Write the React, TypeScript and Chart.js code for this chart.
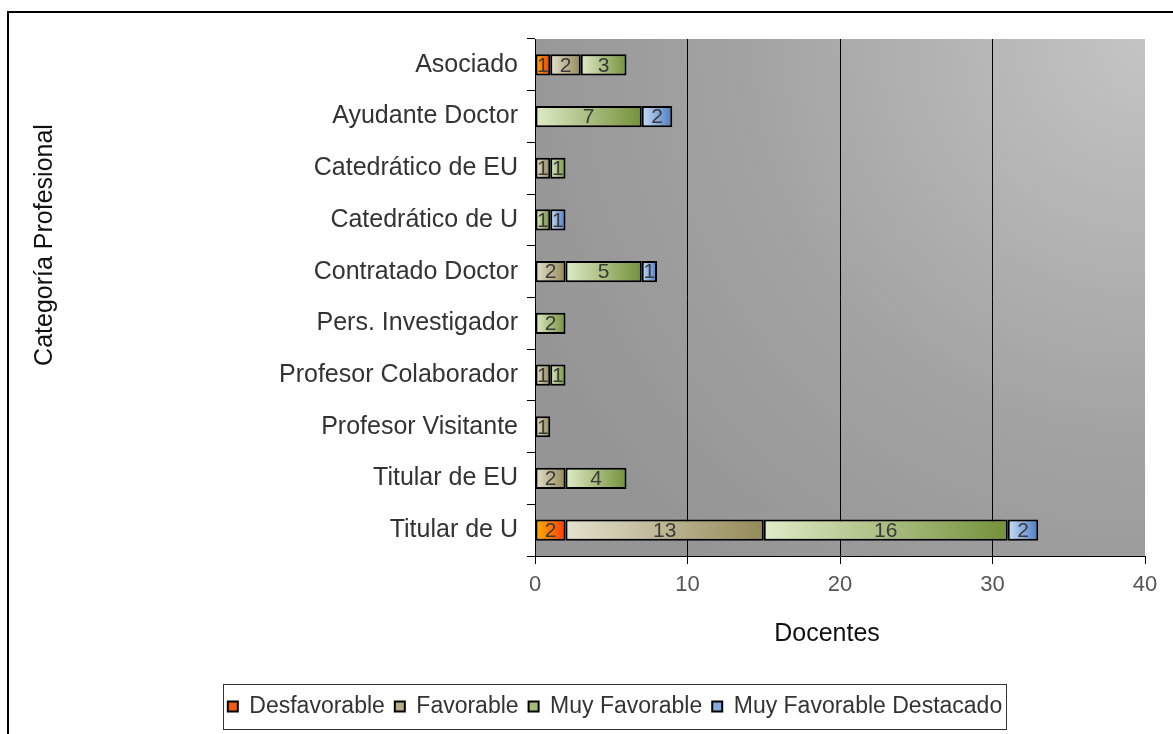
import React, { useEffect, useRef } from "react";
import { Chart, registerables } from "chart.js";

Chart.register(...registerables);

const categories = [
  "Asociado",
  "Ayudante Doctor",
  "Catedrático de EU",
  "Catedrático de U",
  "Contratado Doctor",
  "Pers. Investigador",
  "Profesor Colaborador",
  "Profesor Visitante",
  "Titular de EU",
  "Titular de U",
];

const desfavorable = [1, null, null, null, null, null, null, null, null, 2];
const favorable = [2, null, 1, null, 2, null, 1, 1, 2, 13];
const muyFavorable = [3, 7, 1, 1, 5, 2, 1, null, 4, 16];
const muyFavorableDestacado = [null, 2, null, 1, 1, null, null, null, null, 2];

const seriesNames = ["Desfavorable", "Favorable", "Muy Favorable", "Muy Favorable Destacado"];
const xTicks = [0, 10, 20, 30, 40];

const FONT = "'Liberation Sans', Arial, sans-serif";

const gradStops: [string, string, string][] = [
  ["#FFB300", "#FF3A00", "#F25A10"],
  ["#E4E1CE", "#948958", "#B4AC84"],
  ["#E0EBC8", "#74913A", "#A3BC78"],
  ["#CADCF3", "#4A7DC6", "#86A9DC"],
];

export default function App() {
  const ref = useRef<HTMLCanvasElement | null>(null);

  useEffect(() => {
    const canvas = ref.current;
    if (!canvas) return;
    const allData = [desfavorable, favorable, muyFavorable, muyFavorableDestacado];

    const makeBg = (si: number) => (ctx: any) => {
      const chart = ctx.chart;
      if (ctx.type !== "data" || !chart.chartArea || !chart.scales.x) return gradStops[si][2];
      const i = ctx.dataIndex;
      let start = 0;
      for (let k = 0; k < si; k++) start += (allData[k][i] as number) || 0;
      const v = (allData[si][i] as number) || 0;
      const x0 = chart.scales.x.getPixelForValue(start);
      const x1 = chart.scales.x.getPixelForValue(start + v);
      if (!isFinite(x0) || !isFinite(x1) || x1 - x0 < 1) return gradStops[si][2];
      const g = chart.ctx.createLinearGradient(x0, 0, x1, 0);
      g.addColorStop(0, gradStops[si][0]);
      g.addColorStop(1, gradStops[si][1]);
      return g;
    };

    const bgPlugin = {
      id: "bgPlugin",
      beforeDraw(chart: any) {
        const { ctx, chartArea: a } = chart;
        ctx.save();
        ctx.fillStyle = "#000";
        ctx.fillRect(7, 11, 2, 900);
        ctx.fillRect(7, 11, 2000, 2);
        const r = Math.hypot(a.right - a.left, a.bottom - a.top) * 0.85;
        const g = ctx.createRadialGradient(a.right, a.top, 0, a.right, a.top, r);
        g.addColorStop(0, "#C4C4C4");
        g.addColorStop(0.6, "#A2A2A2");
        g.addColorStop(1, "#959595");
        ctx.fillStyle = g;
        ctx.fillRect(a.left, a.top, a.right - a.left, a.bottom - a.top);
        ctx.restore();
      },
      afterDraw(chart: any) {
        const { ctx } = chart;
        ctx.save();
        ctx.fillStyle = "#111";
        ctx.font = `25px ${FONT}`;
        ctx.textAlign = "center";
        ctx.textBaseline = "middle";
        ctx.fillText("Docentes", 827, 634);
        ctx.translate(45, 245);
        ctx.rotate(-Math.PI / 2);
        ctx.fillText("Categoría Profesional", 0, 0);
        ctx.restore();
        // legend frame
        const lg = chart.legend;
        if (lg && lg.legendHitBoxes && lg.legendHitBoxes.length) {
          const hb = lg.legendHitBoxes;
          const l = Math.min(...hb.map((h: any) => h.left)) - 5;
          const r = Math.max(...hb.map((h: any) => h.left + h.width)) + 4;
          const cy = hb[0].top + hb[0].height / 2;
          ctx.save();
          ctx.strokeStyle = "#333";
          ctx.lineWidth = 1;
          ctx.strokeRect(Math.round(l) + 0.5, Math.round(cy - 23) + 0.5, Math.round(r - l), 45);
          ctx.restore();
        }
      },
    };

    const labelPlugin = {
      id: "labelPlugin",
      afterDatasetsDraw(chart: any) {
        const { ctx } = chart;
        ctx.save();
        ctx.font = `21px ${FONT}`;
        ctx.fillStyle = "#3a3a3a";
        ctx.textAlign = "center";
        ctx.textBaseline = "middle";
        chart.data.datasets.forEach((ds: any, di: number) => {
          const meta = chart.getDatasetMeta(di);
          meta.data.forEach((bar: any, i: number) => {
            const v = ds.data[i];
            if (v == null) return;
            ctx.fillText(String(v), (bar.x + bar.base) / 2, bar.y + 1);
          });
        });
        ctx.restore();
      },
    };

    const chart = new Chart(canvas, {
      type: "bar",
      data: {
        labels: categories,
        datasets: allData.map((d, si) => ({
          label: seriesNames[si],
          data: d as any,
          backgroundColor: makeBg(si) as any,
          borderColor: "#000",
          borderWidth: 2,
          borderSkipped: false,
          barPercentage: 0.41,
          categoryPercentage: 1,
        })),
      },
      options: {
        indexAxis: "y",
        animation: false,
        responsive: false,
        layout: { padding: { top: 39, right: 28, bottom: 6, left: 85 } },
        plugins: {
          legend: {
            position: "bottom",
            labels: {
              boxWidth: 10,
              boxHeight: 10,
              padding: 10,
              color: "#333",
              font: { family: FONT, size: 23 },
              generateLabels: (ch: any) =>
                ch.data.datasets.map((ds: any, i: number) => ({
                  text: ds.label,
                  fillStyle: gradStops[i][2],
                  strokeStyle: "#000",
                  lineWidth: 2,
                  fontColor: "#333",
                  hidden: false,
                  datasetIndex: i,
                })),
            },
          },
          tooltip: { enabled: false },
        },
        scales: {
          x: {
            stacked: true,
            min: 0,
            max: 40,
            afterBuildTicks: (s: any) => {
              s.ticks = xTicks.map((v) => ({ value: v }));
            },
            afterFit: (s: any) => {
              const lh = s.chart.legend?.height ?? 43;
              s.height = 734 - 6 - lh - 556;
            },
            grid: {
              color: (c: any) =>
                c.tick && c.tick.value > 0 && c.tick.value < 40 ? "#000" : "rgba(0,0,0,0)",
              tickColor: "#000",
              tickLength: 8,
              lineWidth: 1,
            },
            border: { color: "#000", width: 1 },
            ticks: { color: "#555", padding: 8, font: { family: FONT, size: 22 } },
          },
          y: {
            stacked: true,
            afterFit: (s: any) => {
              s.width = 450;
            },
            grid: {
              color: "rgba(0,0,0,0)",
              tickColor: "#000",
              tickLength: 8,
              offset: true,
            },
            border: { color: "#000", width: 1 },
            ticks: { color: "#333", padding: 9, font: { family: FONT, size: 25 } },
          },
        },
      },
      plugins: [bgPlugin, labelPlugin],
    });
    return () => chart.destroy();
  }, []);

  return (
    <div
      style={{
        position: "fixed",
        left: 0,
        top: 0,
        width: 1173,
        height: 734,
        overflow: "hidden",
        background: "#fff",
      }}
    >
      <canvas ref={ref} width={1173} height={734} style={{ display: "block" }} />
    </div>
  );
}
